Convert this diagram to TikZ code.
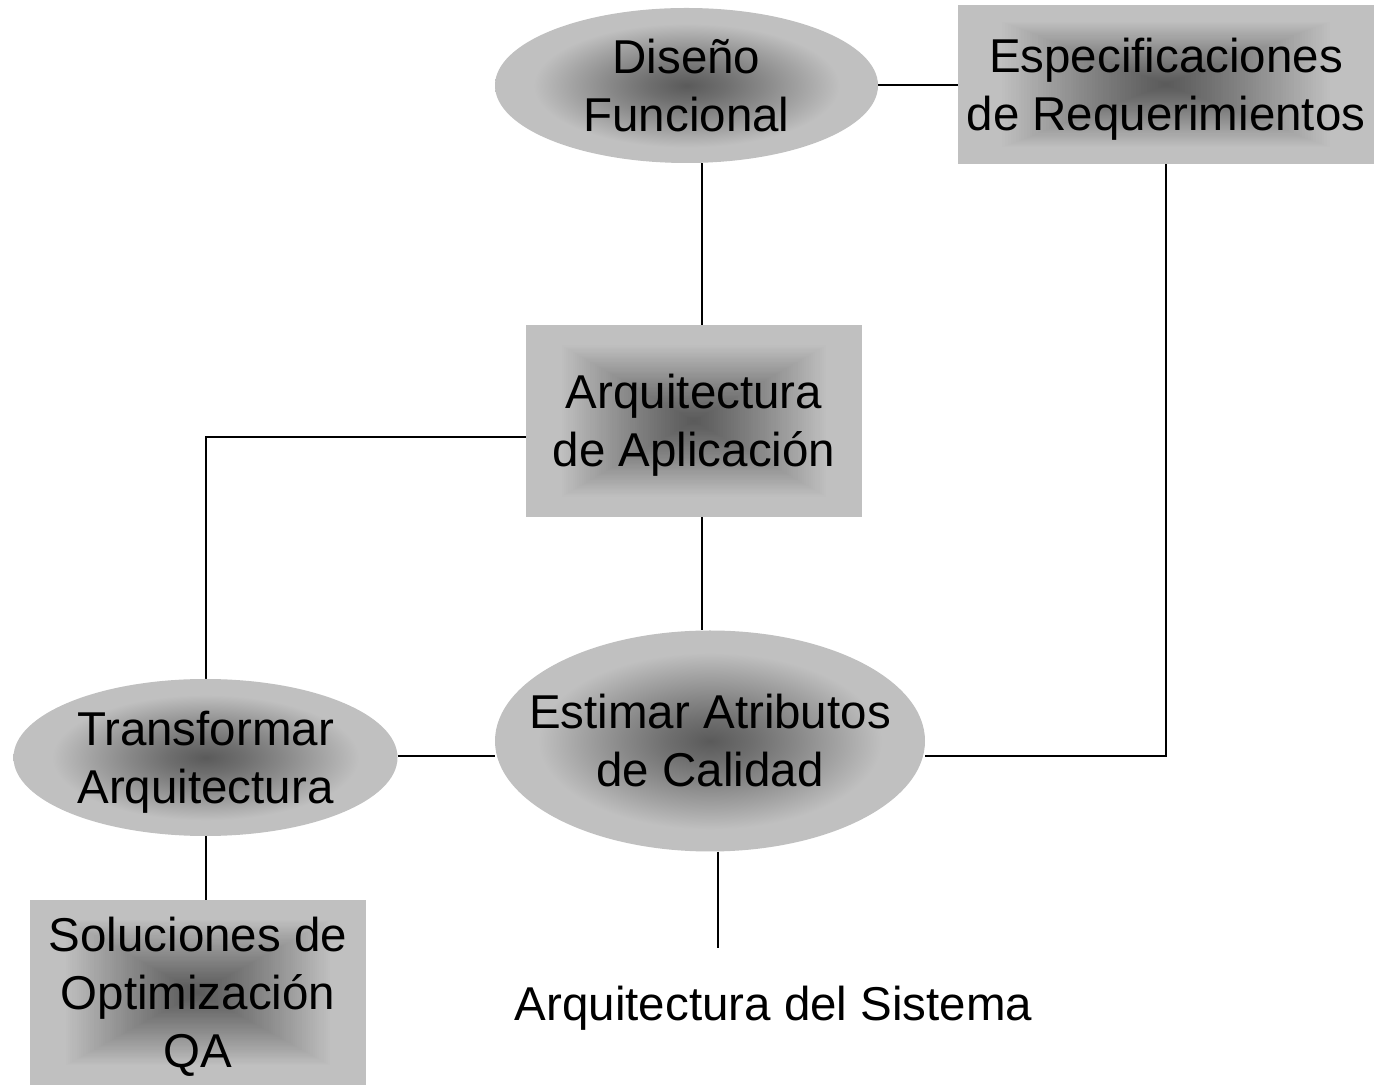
\documentclass[tikz,border=0pt]{standalone}
\usepackage{fontspec}
\setmainfont{Liberation Sans}
\usetikzlibrary{shapes.geometric,calc}
\definecolor{gd}{HTML}{5A5A5A}
\definecolor{gl}{HTML}{C0C0C0}
\colorlet{sa}{gl!20.3!gd}
\colorlet{sb}{gl!45.1!gd}
\colorlet{sc}{gl!71.8!gd}
\pgfdeclareradialshading{rsh}{\pgfpoint{0bp}{0bp}}{color(0bp)=(gd); color(5bp)=(sa); color(10bp)=(sb); color(15bp)=(sc); color(20bp)=(gl); color(50bp)=(gl)}
\pgfdeclarelayer{background}
\pgfsetlayers{background,main}
\newcommand\lnstrut{\rule[-12pt]{0pt}{58pt}}
\begin{document}
\begin{tikzpicture}[x=1pt,y=1pt,
  lbl/.style={font=\fontsize{47.5pt}{58pt}\selectfont, align=center, text=black},
  ovalbox/.style={lbl, ellipse, inner xsep=-40pt, inner ysep=-10pt, shade, shading=rsh},
  rectbox/.style={lbl, rectangle, inner sep=0pt, fill=gl,
    path picture={
      \foreach \i in {0,...,60}{
        \pgfmathsetmacro\ff{0.8*(1-\i/61)}
        \pgfmathsetmacro\pp{100*min(1,\ff/0.8)^1.15}
        \fill[gl!\pp!gd] ($(path picture bounding box.center)!\ff!(path picture bounding box.north east)$) rectangle ($(path picture bounding box.center)!\ff!(path picture bounding box.south west)$);
      }
    }},
  conn/.style={line width=2pt, draw=black}]
\useasboundingbox (0,0) rectangle (1379,1087);
\node[ovalbox, minimum width=383pt, minimum height=155pt] (dis) at (686.5,1001.5) {\lnstrut Diseño\\\lnstrut Funcional};
\node[rectbox, minimum width=416pt, minimum height=159pt] (spec) at (1166,1002.5) {\lnstrut Especificaciones\\\lnstrut de Requerimientos};
\node[rectbox, minimum width=336pt, minimum height=192pt] (arq) at (694,666) {\lnstrut Arquitectura\\\lnstrut de Aplicación};
\node[ovalbox, minimum width=430pt, minimum height=221pt] (est) at (710,346) {\lnstrut Estimar Atributos\\\lnstrut de Calidad};
\node[ovalbox, minimum width=384pt, minimum height=157pt] (tra) at (205.5,329.5) {\lnstrut Transformar\\\lnstrut Arquitectura};
\node[rectbox, minimum width=336pt, minimum height=185pt] (sol) at (198,94.5) {\lnstrut Soluciones de\\\lnstrut Optimización\\\lnstrut QA};
\node[lbl, anchor=base, inner sep=0pt] (sys) at (773.5,66) {Arquitectura del Sistema};
\coordinate (xa) at (702,0);
\coordinate (k1) at (1166,331);
\coordinate (k2) at (206,650);
\coordinate (k3) at (718,139);
\begin{pgfonlayer}{background}
\fill[white] (0,0) rectangle (1379,1087);
\draw[conn] (dis.east) -- (dis.east -| spec.west);
\draw[conn] (dis.south -| xa) -- (arq.north -| xa);
\draw[conn] (arq.south -| xa) -- (est.north -| xa);
\draw[conn] (spec.south) -- (k1) -- (k1 -| est.east);
\draw[conn] (arq.west |- k2) -- (k2) -- (k2 |- tra.north);
\draw[conn] (tra.east |- k1) -- (est.west |- k1);
\draw[conn] (tra.south -| k2) -- (sol.north -| k2);
\draw[conn] (k3 |- est.south) -- (k3);
\end{pgfonlayer}
\end{tikzpicture}
\end{document}
